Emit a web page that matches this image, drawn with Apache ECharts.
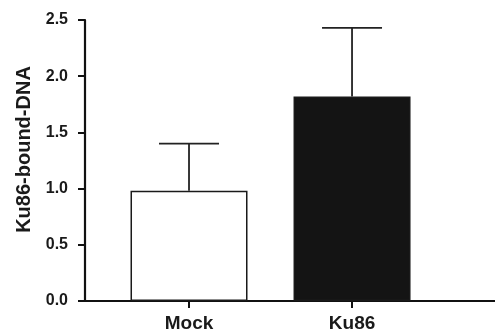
<!DOCTYPE html>
<html><head><meta charset="utf-8">
<script src="https://cdn.jsdelivr.net/npm/echarts@6/dist/echarts.min.js"></script>
<style>html,body{margin:0;padding:0;background:#fff}#c{width:495px;height:333px}</style>
</head><body><div id="c"></div>
<script>
const categories = ['Mock', 'Ku86'];
const means = [0.98, 1.82];
const upperErrors = [1.40, 2.43];
const yTicks = [0, 0.5, 1.0, 1.5, 2.0, 2.5];
const barColors = ['#ffffff', '#141414'];

const catPos = categories.map((c, i) => i);
const chart = echarts.init(document.getElementById('c'), null, {renderer: 'canvas'});
const font = '"Liberation Sans", Arial, sans-serif';
chart.setOption({
  backgroundColor: '#fff',
  animation: false,
  grid: {left: 85, right: 0, top: 20, bottom: 31, containLabel: false},
  xAxis: {
    type: 'value', min: -0.638, max: 1.877,
    splitLine: {show: false},
    axisLine: {show: true, onZero: false, lineStyle: {color: '#111', width: 2.2}},
    axisTick: {show: true, customValues: catPos, length: 7, lineStyle: {color: '#111', width: 2}},
    axisLabel: {show: true, customValues: catPos, margin: 13,
      formatter: v => categories[Math.round(v)] || '',
      color: '#1a1a1a', fontFamily: font, fontWeight: 'bold', fontSize: 19}
  },
  yAxis: {
    type: 'value', min: 0, max: 2.5, interval: 0.5,
    name: 'Ku86-bound-DNA', nameLocation: 'middle', nameGap: 49, nameRotate: 90,
    nameTextStyle: {color: '#1a1a1a', fontFamily: font, fontWeight: 'bold', fontSize: 20, padding: [0, 0, 0, 22]},
    splitLine: {show: false},
    axisLine: {show: true, onZero: false, lineStyle: {color: '#111', width: 2.2}},
    axisTick: {show: true, length: 7, lineStyle: {color: '#111', width: 2}},
    axisLabel: {margin: 17, color: '#1a1a1a', fontFamily: font, fontWeight: 'bold', fontSize: 16,
      formatter: v => v.toFixed(1)}
  },
  series: [
    {
      type: 'bar', barWidth: 117,
      data: means.map((m, i) => ({value: [catPos[i], m],
        itemStyle: {color: barColors[i], borderColor: '#1a1a1a', borderWidth: 1.5}})),
      z: 2
    },
    {
      type: 'custom', z: 3,
      data: means.map((m, i) => [catPos[i], m, upperErrors[i]]),
      renderItem: function (params, api) {
        const x = api.value(0);
        const top = api.coord([x, api.value(1)]);
        const up = api.coord([x, api.value(2)]);
        const half = 30;
        const style = {stroke: '#222', lineWidth: 1.8};
        return {type: 'group', children: [
          {type: 'line', shape: {x1: top[0], y1: top[1], x2: up[0], y2: up[1]}, style: style},
          {type: 'line', shape: {x1: up[0] - half, y1: up[1], x2: up[0] + half, y2: up[1]}, style: style}
        ]};
      }
    }
  ]
});
</script></body></html>
